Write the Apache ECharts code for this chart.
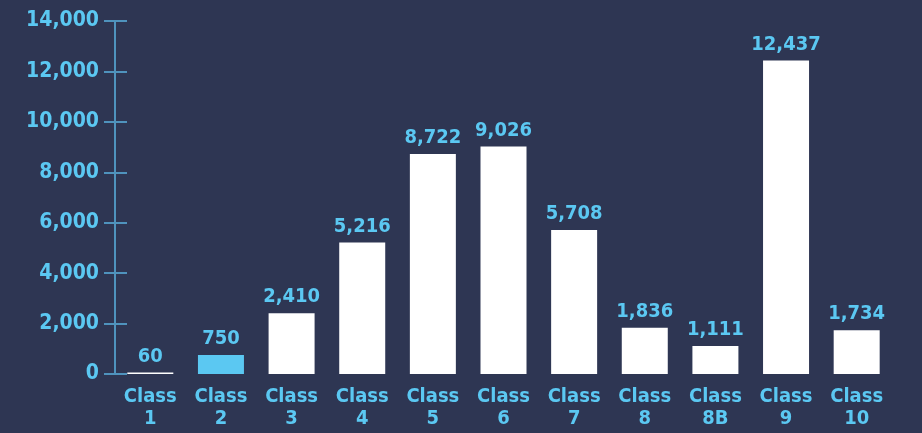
<!DOCTYPE html>
<html>
<head>
<meta charset="utf-8">
<script src="https://cdn.jsdelivr.net/npm/echarts@6/dist/echarts.min.js"></script>
<style>
html, body { margin: 0; padding: 0; background: #2e3653; }
#main { width: 922px; height: 433px; }
</style>
</head>
<body>
<div id="main"></div>
<script>
var categories = ['Class\n1', 'Class\n2', 'Class\n3', 'Class\n4', 'Class\n5', 'Class\n6', 'Class\n7', 'Class\n8', 'Class\n8B', 'Class\n9', 'Class\n10'];
var values = [60, 750, 2410, 5216, 8722, 9026, 5708, 1836, 1111, 12437, 1734];
var highlightIndex = 1;

var blue = '#5bc8f2';
var axisBlue = '#4f93bd';
var font = '"DejaVu Sans Condensed", "DejaVu Sans", sans-serif';

var myChart = echarts.init(document.getElementById('main'));

var option = {
    backgroundColor: '#2e3653',
    grid: {
        left: 115,
        right: 30,
        top: 21,
        bottom: 59
    },
    xAxis: {
        type: 'category',
        data: categories,
        axisLine: { show: false },
        axisTick: { show: false },
        axisLabel: {
            interval: 0,
            color: blue,
            fontFamily: font,
            fontWeight: 'bold',
            fontSize: 20,
            lineHeight: 22,
            margin: 12
        }
    },
    yAxis: [
        {
            type: 'value',
            min: 0,
            max: 14000,
            interval: 2000,
            axisLine: { show: true, lineStyle: { color: axisBlue, width: 2 } },
            axisTick: { show: true, length: 11, lineStyle: { color: axisBlue, width: 2 } },
            splitLine: { show: false },
            axisLabel: {
                color: blue,
                fontFamily: font,
                fontWeight: 'bold',
                fontSize: 21,
                margin: 16,
                formatter: function (v) {
                    return v.toLocaleString('en-US');
                }
            }
        },
        {
            type: 'value',
            position: 'left',
            min: 0,
            max: 14000,
            interval: 2000,
            axisLine: { show: false },
            axisTick: { show: true, inside: true, length: 12, lineStyle: { color: axisBlue, width: 2 } },
            axisLabel: { show: false },
            splitLine: { show: false }
        }
    ],
    series: [
        {
            type: 'bar',
            barWidth: 46,
            data: values.map(function (v, i) {
                return {
                    value: v,
                    itemStyle: { color: i === highlightIndex ? blue : '#ffffff' }
                };
            }),
            label: {
                show: true,
                position: 'top',
                distance: 6,
                color: blue,
                fontFamily: font,
                fontWeight: 'bold',
                fontSize: 20,
                formatter: function (p) {
                    return p.value.toLocaleString('en-US');
                }
            }
        }
    ]
};

myChart.setOption(option);
</script>
</body>
</html>
